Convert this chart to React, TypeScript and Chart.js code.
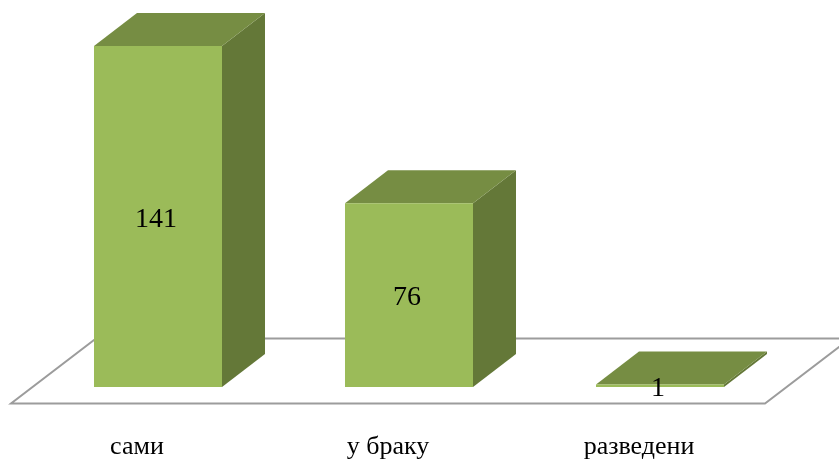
import { useEffect, useRef } from "react";
import { Chart, registerables } from "chart.js";

Chart.register(...registerables);

const categories = ["сами", "у браку", "разведени"];
const counts = [141, 76, 1];

const FRONT = "#9BBB59";
const TOP = "#768D43";
const SIDE = "#647838";
const FLOOR_LINE = "#9C9C9C";
const DEPTH_X = 43;
const DEPTH_Y = 33;
const FONT = '"Liberation Serif", "Times New Roman", serif';

// Draws the extruded top and side faces behind every bar, plus the floor plane.
const box3d = {
  id: "box3d",
  beforeDatasetsDraw(chart: any) {
    const { ctx, chartArea } = chart;
    const y = chartArea.bottom + 16.5;
    const x0 = chartArea.left - 21.5;
    const x1 = chartArea.right - 20.5;
    ctx.save();
    ctx.beginPath();
    ctx.moveTo(x0, y);
    ctx.lineTo(x1, y);
    ctx.lineTo(x1 + 85, y - 65);
    ctx.lineTo(x0 + 85, y - 65);
    ctx.closePath();
    ctx.fillStyle = "#ffffff";
    ctx.fill();
    ctx.strokeStyle = FLOOR_LINE;
    ctx.lineWidth = 2;
    ctx.stroke();

    for (const bar of chart.getDatasetMeta(0).data) {
      const left = bar.x - bar.width / 2;
      const right = bar.x + bar.width / 2;
      const top = bar.y;
      const bottom = bar.base;

      ctx.fillStyle = SIDE;
      ctx.beginPath();
      ctx.moveTo(right, top);
      ctx.lineTo(right + DEPTH_X, top - DEPTH_Y);
      ctx.lineTo(right + DEPTH_X, bottom - DEPTH_Y);
      ctx.lineTo(right, bottom);
      ctx.closePath();
      ctx.fill();

      ctx.fillStyle = TOP;
      ctx.beginPath();
      ctx.moveTo(left, top);
      ctx.lineTo(left + DEPTH_X, top - DEPTH_Y);
      ctx.lineTo(right + DEPTH_X, top - DEPTH_Y);
      ctx.lineTo(right, top);
      ctx.closePath();
      ctx.fill();
    }
    ctx.restore();
  },
  afterDatasetsDraw(chart: any) {
    const { ctx } = chart;
    ctx.save();
    ctx.fillStyle = "#000000";
    ctx.font = `28px ${FONT}`;
    ctx.textAlign = "center";
    ctx.textBaseline = "middle";
    chart.getDatasetMeta(0).data.forEach((bar: any, i: number) => {
      ctx.fillText(String(counts[i]), bar.x - 2, (bar.y + bar.base) / 2 + 3);
    });
    ctx.restore();
  },
};

export default function App() {
  const ref = useRef<HTMLCanvasElement>(null);

  useEffect(() => {
    const chart = new Chart(ref.current!, {
      type: "bar",
      data: {
        labels: categories,
        datasets: [
          {
            data: counts,
            backgroundColor: FRONT,
            borderWidth: 0,
            barPercentage: 0.51,
            categoryPercentage: 1,
          },
        ],
      },
      options: {
        responsive: false,
        animation: false,
        layout: { padding: { left: 32.5, right: 53.5, top: 46, bottom: 0 } },
        plugins: { legend: { display: false }, tooltip: { enabled: false } },
        scales: {
          x: {
            grid: { display: false },
            border: { display: false },
            afterFit(scale: any) {
              scale.height = 74;
            },
            ticks: {
              color: "#000000",
              padding: 37,
              labelOffset: -21,
              maxRotation: 0,
              font: { family: FONT, size: 26 },
            },
          },
          y: { display: false, min: 0, max: 141 },
        },
      },
      plugins: [box3d],
    });
    return () => chart.destroy();
  }, []);

  return (
    <div style={{ position: "absolute", left: 0, top: 0, width: 839, height: 461, overflow: "hidden", background: "#fff" }}>
      <canvas ref={ref} width={839} height={461} style={{ display: "block" }} />
    </div>
  );
}
